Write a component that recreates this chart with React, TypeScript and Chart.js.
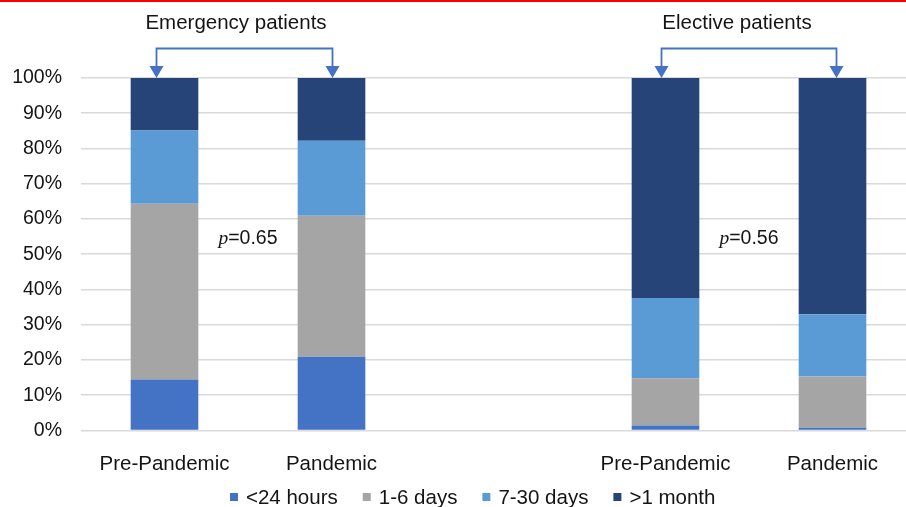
import { useEffect, useRef } from "react";
import { Chart, registerables } from "chart.js";

Chart.register(...registerables);

const categories = ["Pre-Pandemic", "Pandemic", "", "Pre-Pandemic", "Pandemic"];
const seriesNames = ["<24 hours", "1-6 days", "7-30 days", ">1 month"];
const under24Hours = [14.5, 20.9, null, 1.4, 0.8];
const days1to6 = [49.8, 40.0, null, 13.4, 14.5];
const days7to30 = [20.8, 21.3, null, 22.8, 17.7];
const overOneMonth = [14.9, 17.8, null, 62.4, 67.0];
const yTickValues = [0, 10, 20, 30, 40, 50, 60, 70, 80, 90, 100];
const groupTitles = ["Emergency patients", "Elective patients"];
const groupPairs = [
  [0, 1],
  [3, 4],
];
const pValues = ["=0.65", "=0.56"];

const seriesColors = ["#4472C4", "#A5A5A5", "#5B9BD5", "#264478"];
const SANS = "'Liberation Sans', Arial, sans-serif";
const SERIF = "'Liberation Serif', 'Times New Roman', serif";
const TEXT = "#141414";

const overlayPlugin = {
  id: "overlay",
  afterDraw(chart: any) {
    const ctx = chart.ctx as CanvasRenderingContext2D;
    const xs = chart.scales.x;
    const ys = chart.scales.y;
    ctx.save();

    // red top line
    ctx.fillStyle = "#FF0000";
    ctx.fillRect(0, 0, chart.width, 2);

    const tipY = ys.getPixelForValue(100);
    const bracketY = 48.5;
    const bracketOffsets = [
      [-8, 1],
      [-4, 4],
    ];

    groupPairs.forEach((pair, gi) => {
      const xa = xs.getPixelForValue(pair[0]);
      const xb = xs.getPixelForValue(pair[1]);
      const mid = (xa + xb) / 2;

      // title
      ctx.fillStyle = TEXT;
      ctx.font = `20.5px ${SANS}`;
      ctx.textAlign = "center";
      ctx.textBaseline = "alphabetic";
      ctx.fillText(groupTitles[gi], mid - 12, 29);

      // bracket with arrows
      const xl = xa + bracketOffsets[gi][0];
      const xr = xb + bracketOffsets[gi][1];
      const headH = 12;
      const headW = 7;
      ctx.strokeStyle = "#4472C4";
      ctx.lineWidth = 1.8;
      ctx.beginPath();
      ctx.moveTo(xl, tipY - headH + 1);
      ctx.lineTo(xl, bracketY);
      ctx.lineTo(xr, bracketY);
      ctx.lineTo(xr, tipY - headH + 1);
      ctx.stroke();
      ctx.fillStyle = "#4472C4";
      [xl, xr].forEach((x) => {
        ctx.beginPath();
        ctx.moveTo(x - headW, tipY - headH);
        ctx.lineTo(x + headW, tipY - headH);
        ctx.lineTo(x, tipY);
        ctx.closePath();
        ctx.fill();
      });

      // p-value
      const py = ys.getPixelForValue(54.5);
      ctx.font = `italic 19.5px ${SERIF}`;
      const pw = ctx.measureText("p").width;
      ctx.font = `19.5px ${SANS}`;
      const vw = ctx.measureText(pValues[gi]).width;
      const startX = mid - (pw + vw) / 2;
      ctx.textAlign = "left";
      ctx.textBaseline = "middle";
      ctx.fillStyle = TEXT;
      ctx.font = `italic 19.5px ${SERIF}`;
      ctx.fillText("p", startX, py);
      ctx.font = `19.5px ${SANS}`;
      ctx.fillText(pValues[gi], startX + pw, py);
    });

    // legend
    ctx.font = `20.5px ${SANS}`;
    ctx.textAlign = "left";
    ctx.textBaseline = "middle";
    let lx = 230;
    const ly = 498;
    const box = 8;
    seriesNames.forEach((name, i) => {
      ctx.fillStyle = seriesColors[i];
      ctx.fillRect(lx, ly - box / 2 - 1, box, box);
      lx += box + 8;
      ctx.fillStyle = TEXT;
      ctx.fillText(name, lx, ly);
      lx += ctx.measureText(name).width + 25;
    });

    ctx.restore();
  },
};

export default function App() {
  const canvasRef = useRef<HTMLCanvasElement | null>(null);

  useEffect(() => {
    if (!canvasRef.current) return;
    const seriesData = [under24Hours, days1to6, days7to30, overOneMonth];
    const chart = new Chart(canvasRef.current, {
      type: "bar",
      data: {
        labels: categories,
        datasets: seriesNames.map((name, i) => ({
          label: name,
          data: seriesData[i] as any,
          backgroundColor: seriesColors[i],
          borderWidth: 0,
          barPercentage: 1,
          categoryPercentage: 0.405,
        })),
      },
      options: {
        animation: false,
        responsive: true,
        maintainAspectRatio: false,
        layout: { padding: { top: 78, left: 0, right: 0, bottom: 0 } },
        plugins: {
          legend: { display: false },
          tooltip: { enabled: false },
          title: { display: false },
        },
        scales: {
          x: {
            stacked: true,
            grid: { display: false },
            border: { display: false },
            ticks: {
              color: TEXT,
              font: { family: SANS, size: 20.5 },
              padding: 14,
              maxRotation: 0,
              autoSkip: false,
            },
            afterFit(scale: any) {
              scale.height = 76.5;
            },
          },
          y: {
            stacked: true,
            min: 0,
            max: 100,
            afterBuildTicks(scale: any) {
              scale.ticks = yTickValues.map((v) => ({ value: v }));
            },
            ticks: {
              color: TEXT,
              font: { family: SANS, size: 19.5 },
              padding: 19,
              callback: (v: any) => `${v}%`,
            },
            grid: { color: "#D9D9D9", lineWidth: 1.6, drawTicks: false },
            border: { display: false },
            afterFit(scale: any) {
              scale.width = 81;
            },
          },
        },
      },
      plugins: [overlayPlugin],
    });
    return () => chart.destroy();
  }, []);

  return (
    <div
      style={{
        position: "fixed",
        left: 0,
        top: 0,
        width: 906,
        height: 507,
        overflow: "hidden",
        background: "#ffffff",
      }}
    >
      <div style={{ position: "relative", width: 916, height: 507 }}>
        <canvas ref={canvasRef} />
      </div>
    </div>
  );
}
